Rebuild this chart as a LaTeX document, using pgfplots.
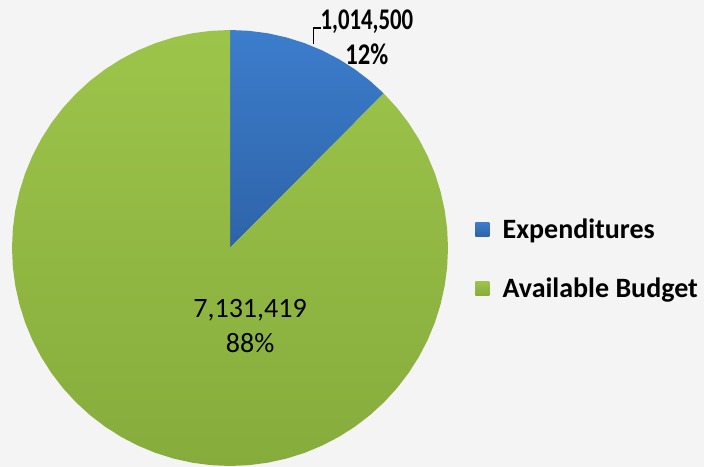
\documentclass[border=0pt]{standalone}
\usepackage{pgfplots}
\pgfplotsset{compat=1.18}
\usepgfplotslibrary{polar}
\usepackage{fontspec}
\setmainfont{Carlito}

\definecolor{bgc}{HTML}{F4F4F4}
\definecolor{blueT}{HTML}{3C7DCC}
\definecolor{blueB}{HTML}{2E63A8}
\definecolor{greenT}{HTML}{9DC44A}
\definecolor{greenB}{HTML}{86AC3C}

\begin{document}
\begin{tikzpicture}[x=0.75pt,y=0.75pt]
% page = 704 x 467 px
\fill[bgc] (0,0) rectangle (704,467);
\begin{axis}[
    at={(172.5pt,164.25pt)}, anchor=center,
    scale only axis,
    width=327pt, height=327pt,
    xmin=-1, xmax=1, ymin=-1, ymax=1,
    hide axis,
    clip=false,
    data cs=polar,
    legend style={
        at={(axis description cs:1.062,0.475)}, anchor=west,
        draw=none, fill=none, inner sep=0pt,
        font=\fontsize{21}{25}\selectfont\bfseries,
        row sep=28pt, column sep=10pt,
        nodes={inner sep=0pt},
    },
    legend cell align=left,
    legend image code/.code={\path[#1,draw=none] (0pt,-5.25pt) rectangle (10.5pt,5.25pt);},
]
% Expenditures 1,014,500 -> 44.83 deg, clockwise from top
\addplot[draw=none, top color=blueT, bottom color=blueB] coordinates {
    (0,0) (90,1) (85,1) (80,1) (75,1) (70,1) (65,1) (60,1) (55,1) (50,1) (45.17,1) (0,0)
};
\addlegendentry{Expenditures}
% Available Budget 7,131,419
\addplot[draw=none, top color=greenT, bottom color=greenB] coordinates {
    (0,0) (45.17,1) (40,1) (35,1) (30,1) (25,1) (20,1) (15,1) (10,1) (5,1) (0,1)
    (-5,1) (-10,1) (-15,1) (-20,1) (-25,1) (-30,1) (-35,1) (-40,1) (-45,1) (-50,1)
    (-55,1) (-60,1) (-65,1) (-70,1) (-75,1) (-80,1) (-85,1) (-90,1) (-95,1) (-100,1)
    (-105,1) (-110,1) (-115,1) (-120,1) (-125,1) (-130,1) (-135,1) (-140,1) (-145,1) (-150,1)
    (-155,1) (-160,1) (-165,1) (-170,1) (-175,1) (-180,1) (-185,1) (-190,1) (-195,1) (-200,1)
    (-205,1) (-210,1) (-215,1) (-220,1) (-225,1) (-230,1) (-235,1) (-240,1) (-245,1) (-250,1)
    (-255,1) (-260,1) (-265,1) (-270,1) (0,0)
};
\addlegendentry{Available Budget}

% data labels
\draw[black, line width=0.8pt] (axis cs:0.381,0.936) -- (axis cs:0.381,1.009) -- (axis cs:0.417,1.009);
\node[align=center, font=\fontsize{22.5}{26}\selectfont\bfseries, inner sep=0pt]
    at (axis cs:0.628,0.968) {\scalebox{0.76}[1]{1,014,500}\\\scalebox{0.82}[1]{12\%}};
\node[align=center, font=\fontsize{21}{26}\selectfont, inner sep=0pt]
    at (axis cs:0.092,-0.358) {7,131,419\\88\%};
\end{axis}
\pgfresetboundingbox
\useasboundingbox (0,0) rectangle (704,467);
\end{tikzpicture}
\end{document}
